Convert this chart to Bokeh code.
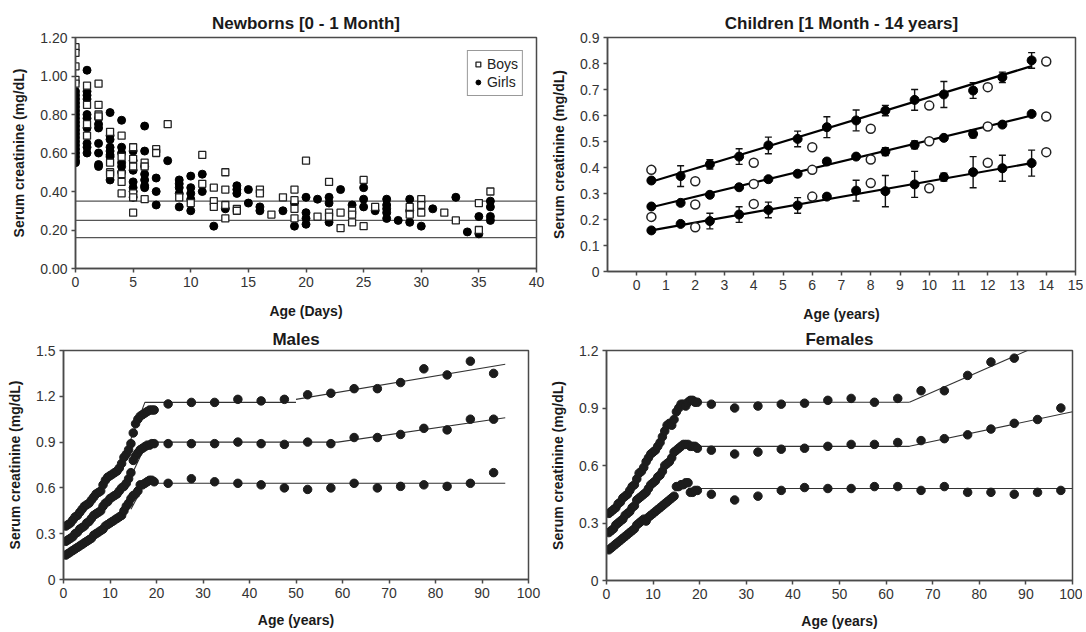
from bokeh.plotting import figure
from bokeh.layouts import column, row
from bokeh.models import (FixedTicker, CustomJSTickFormatter, Range1d, Whisker, TeeHead,
                          ColumnDataSource, Legend, LegendItem)
from bokeh.embed import file_html
from bokeh.resources import INLINE

# ---------------- Panel 1: Newborns ----------------
boys_day = [0, 0, 0, 0, 0,
            1, 1, 1, 1,
            2, 2, 2, 2,
            3, 3, 3, 3,
            4, 4, 4, 4, 4,
            5, 5, 5, 5, 5, 5,
            6, 6, 6,
            7, 7, 8, 9, 10, 11, 11,
            12, 12, 12, 13, 13, 13, 13,
            14, 14, 16, 16, 17, 18,
            19, 19, 19, 19, 20, 21, 22, 22, 22, 23, 23,
            24, 24, 24, 25, 25, 26, 29, 29, 30, 30, 30, 32, 33, 35, 35, 36]
boys_val = [1.15, 1.12, 1.05, 0.98, 0.96,
            0.95, 0.85, 0.75, 0.69,
            0.96, 0.85, 0.80, 0.79,
            0.71, 0.55, 0.50, 0.49,
            0.69, 0.58, 0.49, 0.45, 0.39,
            0.63, 0.57, 0.53, 0.39, 0.37, 0.29,
            0.55, 0.53, 0.36,
            0.62, 0.60, 0.75, 0.37, 0.34, 0.59, 0.44,
            0.42, 0.35, 0.32, 0.50, 0.41, 0.33, 0.26,
            0.31, 0.30, 0.41, 0.39, 0.28, 0.37,
            0.41, 0.355, 0.31, 0.26, 0.56, 0.27, 0.45, 0.29, 0.27, 0.29, 0.21,
            0.30, 0.28, 0.24, 0.46, 0.22, 0.32, 0.32, 0.28, 0.36, 0.33, 0.29, 0.29, 0.25, 0.34, 0.20, 0.40]

girls_day = [0, 0, 0, 0, 0, 0, 0, 0, 0, 0, 0, 0, 0, 0, 0, 0, 0, 0, 0, 0,
             1, 1, 1, 1, 1, 1, 1, 1, 1, 1,
             2, 2, 2, 2, 2, 2, 2,
             3, 3, 3, 3, 3, 3, 3, 3,
             4, 4, 4, 4, 4, 4,
             5, 5, 5, 5, 5, 5, 5,
             6, 6, 6, 6, 6, 6, 6,
             7, 7, 7, 8,
             9, 9, 9, 9, 9,
             10, 10, 10, 10, 10,
             11, 11, 12, 13, 14, 14, 14, 15, 15, 16, 16, 18, 19, 19,
             20, 20, 20, 20, 21, 22, 22, 22, 23, 24, 25, 25, 25, 26,
             27, 27, 27, 27, 27, 28, 29, 29, 29, 30, 31, 33, 34, 35, 35,
             36, 36, 36, 36]
girls_val = [0.92, 0.90, 0.88, 0.86, 0.84, 0.82, 0.80, 0.78, 0.76, 0.74, 0.72, 0.70, 0.68, 0.66,
             0.64, 0.62, 0.60, 0.58, 0.56, 0.55,
             1.03, 0.92, 0.90, 0.88, 0.80, 0.78, 0.73, 0.65, 0.63, 0.60,
             0.78, 0.75, 0.73, 0.65, 0.60, 0.54, 0.53,
             0.81, 0.69, 0.67, 0.63, 0.61, 0.59, 0.58, 0.46,
             0.77, 0.63, 0.60, 0.55, 0.53, 0.50,
             0.61, 0.56, 0.51, 0.45, 0.42, 0.40, 0.37,
             0.74, 0.61, 0.53, 0.49, 0.46, 0.43, 0.42,
             0.47, 0.40, 0.33, 0.56,
             0.46, 0.44, 0.42, 0.39, 0.32,
             0.48, 0.42, 0.39, 0.36, 0.30,
             0.49, 0.40, 0.22, 0.31, 0.43, 0.41, 0.39, 0.41, 0.34, 0.32, 0.30, 0.30, 0.34, 0.22,
             0.37, 0.29, 0.26, 0.23, 0.36, 0.37, 0.34, 0.24, 0.41, 0.33, 0.42, 0.36, 0.32, 0.30,
             0.36, 0.33, 0.31, 0.29, 0.26, 0.25, 0.36, 0.30, 0.24, 0.22, 0.31, 0.37, 0.19, 0.27, 0.18,
             0.35, 0.32, 0.27, 0.25]
newborn_ref_lines = [0.35, 0.25, 0.16]

# ---------------- Panel 2: Children ----------------
kid_x = [0.5, 1.5, 2.5, 3.5, 4.5, 5.5, 6.5, 7.5, 8.5, 9.5, 10.5, 11.5, 12.5, 13.5]
kid_upper = [0.35, 0.367, 0.412, 0.442, 0.485, 0.51, 0.555, 0.581, 0.619, 0.66, 0.681, 0.696, 0.747, 0.812]
kid_upper_err = [0.01, 0.04, 0.018, 0.03, 0.032, 0.03, 0.04, 0.04, 0.02, 0.04, 0.05, 0.03, 0.02, 0.03]
kid_middle = [0.25, 0.264, 0.295, 0.324, 0.355, 0.376, 0.423, 0.442, 0.461, 0.487, 0.514, 0.529, 0.565, 0.606]
kid_middle_err = [0.008, 0.008, 0.008, 0.008, 0.008, 0.008, 0.008, 0.008, 0.015, 0.015, 0.008, 0.015, 0.008, 0.008]
kid_lower = [0.158, 0.183, 0.194, 0.219, 0.237, 0.254, 0.288, 0.311, 0.309, 0.335, 0.363, 0.382, 0.397, 0.417]
kid_lower_err = [0.01, 0.008, 0.03, 0.03, 0.03, 0.03, 0.01, 0.04, 0.06, 0.05, 0.015, 0.06, 0.05, 0.05]
kid_fit_x = [0.5, 13.5]
kid_fit_upper = [0.345, 0.79]
kid_fit_middle = [0.247, 0.60]
kid_fit_lower = [0.158, 0.417]
open_x_upper = [0.5, 2, 4, 6, 8, 10, 12, 14]
open_upper = [0.391, 0.347, 0.418, 0.478, 0.549, 0.638, 0.709, 0.808]
open_x_middle = [0.5, 2, 4, 6, 8, 10, 12, 14]
open_middle = [0.21, 0.258, 0.337, 0.391, 0.431, 0.501, 0.558, 0.596]
open_x_lower = [2, 4, 6, 8, 10, 12, 14]
open_lower = [0.17, 0.26, 0.288, 0.34, 0.32, 0.418, 0.459]

# ---------------- Panels 3-4: Males / Females ----------------
ages_young = [0.5, 1.0, 1.5, 2.0, 2.5, 3.0, 3.5, 4.0, 4.5, 5.0, 5.5, 6.0, 6.5, 7.0, 7.5, 8.0,
              8.5, 9.0, 9.5, 10.0, 10.5, 11.0, 11.5, 12.0, 12.5, 13.0, 13.5, 14.0, 14.5, 15.0,
              15.5, 16.0, 16.5, 17.0, 17.5, 18.0, 18.5, 19.0, 19.5]
ages_adult_m = [22.5, 27.5, 32.5, 37.5, 42.5, 47.5, 52.5, 57.5, 62.5, 67.5, 72.5, 77.5, 82.5, 87.5, 92.5]
ages_adult_f = [22.5, 27.5, 32.5, 37.5, 42.5, 47.5, 52.5, 57.5, 62.5, 67.5, 72.5, 77.5, 82.5, 87.5, 92.5, 97.5]

m_up_young = [0.35, 0.36, 0.37, 0.39, 0.41, 0.42, 0.44, 0.46, 0.48, 0.49, 0.50, 0.52, 0.54, 0.56,
              0.57, 0.58, 0.62, 0.65, 0.67, 0.68, 0.69, 0.70, 0.71, 0.73, 0.76, 0.80, 0.82, 0.85,
              0.89, 0.96, 1.02, 1.05, 1.07, 1.08, 1.09, 1.10, 1.11, 1.11, 1.11]
m_mid_young = [0.25, 0.26, 0.27, 0.28, 0.30, 0.31, 0.33, 0.34, 0.35, 0.37, 0.38, 0.40, 0.42, 0.43,
               0.44, 0.45, 0.48, 0.50, 0.51, 0.53, 0.54, 0.55, 0.56, 0.58, 0.60, 0.61, 0.63, 0.66,
               0.70, 0.78, 0.81, 0.83, 0.85, 0.86, 0.87, 0.88, 0.88, 0.89, 0.89]
m_low_young = [0.16, 0.17, 0.18, 0.19, 0.20, 0.21, 0.22, 0.23, 0.24, 0.25, 0.26, 0.27, 0.29, 0.30,
               0.31, 0.32, 0.33, 0.35, 0.36, 0.37, 0.38, 0.39, 0.40, 0.41, 0.42, 0.45, 0.48, 0.50,
               0.53, 0.55, 0.56, 0.58, 0.62, 0.62, 0.63, 0.64, 0.65, 0.65, 0.64]
m_up_adult = [1.15, 1.16, 1.16, 1.18, 1.17, 1.18, 1.21, 1.22, 1.25, 1.25, 1.29, 1.38, 1.34, 1.43, 1.35]
m_mid_adult = [0.89, 0.89, 0.89, 0.90, 0.89, 0.885, 0.90, 0.89, 0.93, 0.93, 0.95, 0.99, 0.98, 1.05, 1.05]
m_low_adult = [0.63, 0.66, 0.64, 0.63, 0.62, 0.60, 0.59, 0.60, 0.63, 0.60, 0.61, 0.62, 0.61, 0.63, 0.70]
m_fit_up1_x = [13.5, 17.5, 50]
m_fit_up1_y = [0.84, 1.16, 1.16]
m_fit_up2_x = [50, 95]
m_fit_up2_y = [1.18, 1.41]
m_fit_mid_x = [13.8, 18, 59, 95]
m_fit_mid_y = [0.63, 0.90, 0.90, 1.06]
m_fit_low_x = [14.5, 17.5, 95]
m_fit_low_y = [0.46, 0.63, 0.63]

f_up_young = [0.35, 0.36, 0.37, 0.38, 0.40, 0.41, 0.43, 0.44, 0.45, 0.47, 0.49, 0.50, 0.53, 0.56,
              0.57, 0.59, 0.62, 0.64, 0.66, 0.67, 0.68, 0.70, 0.72, 0.75, 0.78, 0.81, 0.82, 0.81,
              0.84, 0.88, 0.90, 0.92, 0.92, 0.91, 0.93, 0.94, 0.94, 0.93, 0.93]
f_mid_young = [0.25, 0.26, 0.27, 0.29, 0.30, 0.31, 0.32, 0.34, 0.35, 0.36, 0.38, 0.39, 0.42, 0.43,
               0.44, 0.45, 0.46, 0.48, 0.50, 0.51, 0.52, 0.54, 0.55, 0.57, 0.60, 0.61, 0.62, 0.64,
               0.67, 0.68, 0.69, 0.70, 0.71, 0.71, 0.71, 0.70, 0.70, 0.70, 0.69]
f_low_young = [0.16, 0.17, 0.18, 0.19, 0.20, 0.21, 0.22, 0.23, 0.24, 0.25, 0.26, 0.27, 0.29, 0.30,
               0.31, 0.32, 0.31, 0.33, 0.34, 0.35, 0.36, 0.37, 0.38, 0.39, 0.40, 0.41, 0.42, 0.43,
               0.44, 0.49, 0.49, 0.50, 0.50, 0.51, 0.51, 0.46, 0.46, 0.47, 0.47]
f_up_adult = [0.92, 0.90, 0.91, 0.92, 0.925, 0.94, 0.95, 0.93, 0.95, 0.99, 0.99, 1.07, 1.14, 1.16]
f_mid_adult = [0.68, 0.66, 0.67, 0.685, 0.69, 0.70, 0.71, 0.71, 0.72, 0.73, 0.74, 0.76, 0.79, 0.82, 0.84, 0.90]
f_low_adult = [0.45, 0.42, 0.44, 0.47, 0.485, 0.48, 0.48, 0.49, 0.49, 0.47, 0.49, 0.46, 0.46, 0.45, 0.46, 0.47]
f_fit_up1_x = [17.5, 65]
f_fit_up1_y = [0.93, 0.93]
f_fit_up2_x = [65, 95]
f_fit_up2_y = [0.93, 1.25]
f_fit_mid_x = [17.5, 65, 100]
f_fit_mid_y = [0.70, 0.70, 0.88]
f_fit_low_x = [17.5, 100]
f_fit_low_y = [0.48, 0.48]

FONT = "Liberation Sans"
AX = "#4a4a4a"


def make_fig(title, fw, fh, bl, br, bt, bb, xr, yr, xticks, yticks, fmt, xlabel, xstand, tstand):
    p = figure(frame_width=fw, frame_height=fh, min_border_left=bl, min_border_right=br,
               min_border_top=bt, min_border_bottom=bb, x_range=Range1d(*xr), y_range=Range1d(*yr),
               output_backend="svg", toolbar_location=None, title=title)
    p.title.text_font = FONT
    p.title.text_font_size = "17px"
    p.title.text_font_style = "bold"
    p.title.align = "center"
    p.title.text_color = "#1a1a1a"
    p.title.standoff = tstand
    p.xgrid.visible = False
    p.ygrid.visible = False
    p.outline_line_color = AX
    p.outline_line_width = 1.5
    p.background_fill_color = "white"
    p.border_fill_color = "white"
    for ax, ticks in ((p.xaxis[0], xticks), (p.yaxis[0], yticks)):
        ax.ticker = FixedTicker(ticks=ticks)
        ax.axis_line_color = AX
        ax.axis_line_width = 1.5
        ax.major_tick_line_color = AX
        ax.major_tick_line_width = 1.5
        ax.major_tick_out = 4
        ax.major_tick_in = 0
        ax.minor_tick_line_color = None
        ax.major_label_text_font = FONT
        ax.major_label_text_font_size = "14px"
        ax.major_label_text_color = "#333333"
        ax.major_label_standoff = 4
        ax.axis_label_text_font = FONT
        ax.axis_label_text_font_size = "14px"
        ax.axis_label_text_font_style = "bold"
        ax.axis_label_text_color = "#1a1a1a"
    p.yaxis[0].formatter = CustomJSTickFormatter(code=fmt)
    p.xaxis[0].axis_label = xlabel
    p.yaxis[0].axis_label = "Serum creatinine (mg/dL)"
    p.xaxis[0].axis_label_standoff = xstand
    p.yaxis[0].axis_label_standoff = 10
    return p


FMT2 = "return tick.toFixed(2);"
FMTS = "return String(Number(tick.toFixed(2)));"

# ---- Panel 1
p1 = make_fig("Newborns [0 - 1 Month]", 461, 231, 75, 12, 37, 54, (0, 40), (0, 1.2),
              [0, 5, 10, 15, 20, 25, 30, 35, 40], [0, 0.2, 0.4, 0.6, 0.8, 1.0, 1.2], FMT2, "Age (Days)", 13, 10)
for v in newborn_ref_lines:
    p1.line([0, 40], [v, v], line_color="#555555", line_width=1.3)
r_girls = p1.scatter(girls_day, girls_val, marker="circle", size=8, fill_color="black", line_color="black")
r_boys = p1.scatter(boys_day, boys_val, marker="square", size=7, fill_color="white", line_color="#222222",
                    line_width=1.3)
leg = Legend(items=[LegendItem(label="Boys", renderers=[r_boys]), LegendItem(label="Girls", renderers=[r_girls])],
             location="top_right")
leg.label_text_font = FONT
leg.label_text_font_size = "14px"
leg.label_text_color = "#222222"
leg.border_line_color = "#333333"
leg.border_line_width = 1
leg.padding = 4
leg.spacing = 0
leg.margin = 13
leg.glyph_width = 12
leg.glyph_height = 18
leg.label_height = 18
leg.label_standoff = 3
p1.add_layout(leg)

# ---- Panel 2
p2 = make_fig("Children [1 Month - 14 years]", 468, 234, 54, 8, 37, 51, (-1, 15), (0, 0.9),
              list(range(0, 16)), [0, 0.1, 0.2, 0.3, 0.4, 0.5, 0.6, 0.7, 0.8, 0.9], FMTS, "Age (years)", 13, 10)
for fy in (kid_fit_upper, kid_fit_middle, kid_fit_lower):
    p2.line(kid_fit_x, fy, line_color="black", line_width=2.2)
for ys, es in ((kid_upper, kid_upper_err), (kid_middle, kid_middle_err), (kid_lower, kid_lower_err)):
    src = ColumnDataSource(dict(x=kid_x, y=ys, lo=[a - b for a, b in zip(ys, es)],
                                hi=[a + b for a, b in zip(ys, es)]))
    w = Whisker(source=src, base="x", upper="hi", lower="lo", line_color="#111111", line_width=1.4,
                upper_head=TeeHead(size=7, line_color="#111111", line_width=1.4),
                lower_head=TeeHead(size=7, line_color="#111111", line_width=1.4))
    p2.add_layout(w)
    p2.scatter("x", "y", source=src, marker="circle", size=9, fill_color="black", line_color="black")
for ox, oy in ((open_x_upper, open_upper), (open_x_middle, open_middle), (open_x_lower, open_lower)):
    p2.scatter(ox, oy, marker="circle", size=9, fill_color="white", line_color="#222222", line_width=1.5)

# ---- Panel 3
p3 = make_fig("Males", 465, 229, 63, 19, 26, 48, (0, 100), (0, 1.5),
              [0, 10, 20, 30, 40, 50, 60, 70, 80, 90, 100], [0, 0.3, 0.6, 0.9, 1.2, 1.5], FMTS, "Age (years)", 11, 4)
for fx, fy in ((m_fit_up1_x, m_fit_up1_y), (m_fit_up2_x, m_fit_up2_y), (m_fit_mid_x, m_fit_mid_y),
               (m_fit_low_x, m_fit_low_y)):
    p3.line(fx, fy, line_color="#333333", line_width=1.1)
for yy, ya in ((m_up_young, m_up_adult), (m_mid_young, m_mid_adult), (m_low_young, m_low_adult)):
    p3.scatter(ages_young + ages_adult_m, yy + ya, marker="circle", size=8.5, fill_color="#1c1c1c",
               line_color="#1c1c1c")

# ---- Panel 4
p4 = make_fig("Females", 466, 230, 52, 10, 25, 48, (0, 100), (0, 1.2),
              [0, 10, 20, 30, 40, 50, 60, 70, 80, 90, 100], [0, 0.3, 0.6, 0.9, 1.2], FMTS, "Age (years)", 11, 4)
for fx, fy in ((f_fit_up1_x, f_fit_up1_y), (f_fit_up2_x, f_fit_up2_y), (f_fit_mid_x, f_fit_mid_y),
               (f_fit_low_x, f_fit_low_y)):
    p4.line(fx, fy, line_color="#333333", line_width=1.1)
p4.scatter(ages_young + ages_adult_f[:len(f_up_adult)], f_up_young + f_up_adult, marker="circle", size=8.5,
           fill_color="#1c1c1c", line_color="#1c1c1c")
p4.scatter(ages_young + ages_adult_f, f_mid_young + f_mid_adult, marker="circle", size=8.5,
           fill_color="#1c1c1c", line_color="#1c1c1c")
p4.scatter(ages_young + ages_adult_f, f_low_young + f_low_adult, marker="circle", size=8.5,
           fill_color="#1c1c1c", line_color="#1c1c1c")

layout = column(row(p1, p2), row(p3, p4))
open("out.html", "w").write(file_html(layout, INLINE))
